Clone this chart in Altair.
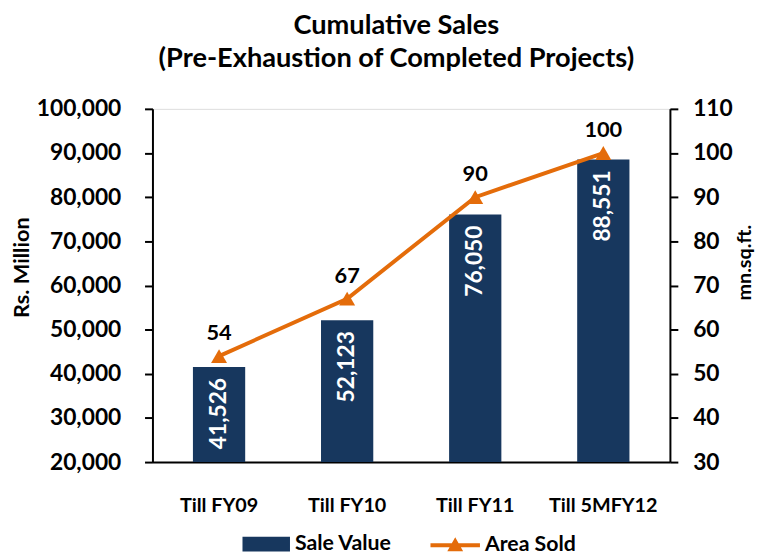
import altair as alt
import pandas as pd

categories = ["Till FY09", "Till FY10", "Till FY11", "Till 5MFY12"]
sale_value = [41526, 52123, 76050, 88551]
area_sold = [54, 67, 90, 100]
left_ticks = [20000, 30000, 40000, 50000, 60000, 70000, 80000, 90000, 100000]
right_ticks = [30, 40, 50, 60, 70, 80, 90, 100, 110]

df = pd.DataFrame({
    "cat": categories,
    "sale": sale_value,
    "area": area_sold,
    "s1": ["Sale Value"] * 4,
    "s2": ["Area Sold"] * 4,
})

FONT = "Lato"
NAVY = "#17375E"
ORANGE = "#E46C0A"
TICK_FS = 23
XL_FS = 20
LEG_FS = 21.5
TITLE_FS = 22

x = alt.X("cat:N", sort=categories, title=None,
          scale=alt.Scale(paddingInner=0.592, paddingOuter=0.316),
          axis=alt.Axis(labelAngle=0, labelFontSize=XL_FS, labelFont=FONT, labelFontWeight="bold",
                        labelColor="black", ticks=False, labelPadding=34,
                        domainColor="black", domainWidth=2))

left_axis = alt.Axis(values=left_ticks, format=",.0f", grid=False, tickSize=8, tickColor="black",
                     tickWidth=2, domainColor="black", domainWidth=2, labelFontSize=TICK_FS,
                     labelFont=FONT, labelFontWeight="bold", labelColor="black", labelPadding=24,
                     title="Rs. Million", titleFontSize=TITLE_FS, titleFont=FONT,
                     titleFontWeight="bold", titleColor="black", titleAngle=270,
                     titleX=-132, titleY=160, titleAlign="center", titleBaseline="middle")
right_axis = alt.Axis(values=right_ticks, format=".0f", grid=False, tickSize=8, tickColor="black",
                      tickWidth=2, domainColor="black", domainWidth=2, labelFontSize=TICK_FS,
                      labelFont=FONT, labelFontWeight="bold", labelColor="black", labelPadding=15,
                      title="mn.sq.ft.", titleFontSize=20, titleFont=FONT,
                      titleFontWeight="bold", titleColor="black", titleAngle=270,
                      titleX=75, titleY=155, titleAlign="center", titleBaseline="middle",
                      orient="right")

base_l = alt.Chart(df).encode(
    x=x,
    y=alt.Y("sale:Q", scale=alt.Scale(domain=[20000, 100000], zero=False), axis=left_axis),
)
bars = base_l.mark_bar(clip=True).encode(
    color=alt.Color("s1:N", scale=alt.Scale(domain=["Sale Value"], range=[NAVY]),
                    legend=alt.Legend(title=None, orient="none", legendX=91, legendY=416,
                                      symbolType="M-1,-0.31H1V0.31H-1Z", symbolSize=2304,
                                      symbolStrokeWidth=0, labelFontSize=LEG_FS, labelFont=FONT,
                                      labelFontWeight="bold", labelColor="black", labelOffset=5,
                                      padding=0))
)
bar_text = base_l.mark_text(angle=270, align="right", baseline="middle", dx=-11,
                            color="white", fontSize=23, font=FONT, fontWeight="bold").encode(
    text=alt.Text("sale:Q", format=",")
)

base_r = alt.Chart(df).encode(
    x=x,
    y=alt.Y("area:Q", scale=alt.Scale(domain=[30, 110], zero=False), axis=right_axis),
)
line = base_r.mark_line(color=ORANGE, strokeWidth=4)
pts = base_r.mark_point(shape="triangle-up", filled=True, size=260, opacity=1).encode(
    color=alt.Color("s2:N", scale=alt.Scale(domain=["Area Sold"], range=[ORANGE]),
                    legend=alt.Legend(title=None, orient="none", legendX=281, legendY=416,
                                      symbolType="M-1,-0.08H1V0.08H-1Z M-0.32,0.24L0,-0.32L0.32,0.24Z",
                                      symbolSize=2500, symbolStrokeWidth=0, symbolOpacity=1,
                                      labelFontSize=LEG_FS, labelFont=FONT,
                                      labelFontWeight="bold", labelColor="black", labelOffset=5,
                                      padding=0))
)
pt_text = base_r.mark_text(dy=-23, baseline="middle", color="black", fontSize=22,
                           font=FONT, fontWeight="bold").encode(text=alt.Text("area:Q"))

left = alt.layer(bars, bar_text)
right = alt.layer(line, pts, pt_text)

chart = alt.layer(left, right).resolve_scale(y="independent", color="independent").properties(
    width=523, height=357,
    autosize=alt.AutoSizeParams(type="none"),
    padding={"left": 146, "top": 99, "right": 87, "bottom": 93},
    title=alt.Title(["Cumulative Sales", "(Pre-Exhaustion of Completed Projects)"],
                    fontSize=27.5, font=FONT, fontWeight="bold", color="black",
                    lineHeight=33, anchor="middle", dx=-15, offset=26),
).configure_view(stroke=None).configure(background="white")

chart.save("out.html", embed_options={"renderer": "svg", "actions": False})
